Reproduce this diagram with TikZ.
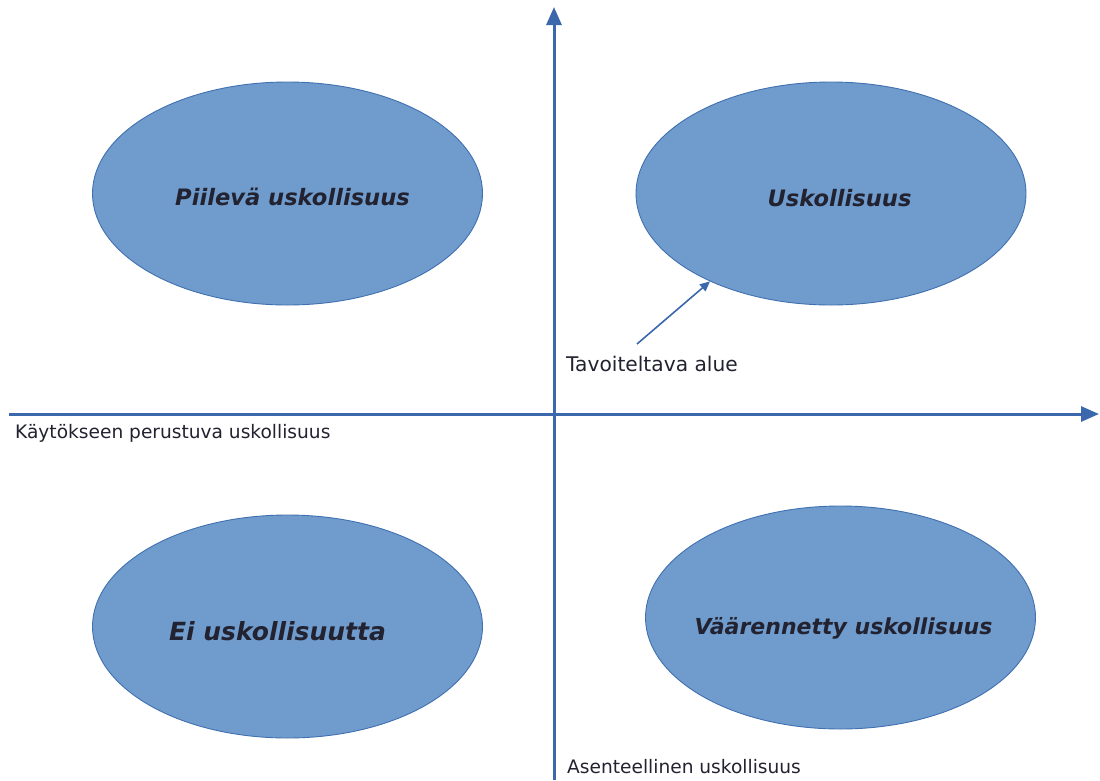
\documentclass[tikz,border=0pt]{standalone}
\usepackage{fontspec}
\setmainfont{DejaVu Sans}
\usepackage{tikz}
\usetikzlibrary{shapes.geometric,arrows.meta,positioning,calc}
\definecolor{axisblue}{HTML}{3B67AC}
\definecolor{ellfill}{HTML}{6F9CCD}
\definecolor{ellline}{HTML}{4170B0}
\definecolor{txtdark}{HTML}{222230}

\begin{document}
\begin{tikzpicture}[x=1pt,y=-1pt,
		axis/.style={draw=axisblue,line width=3pt,-{Triangle[length=18pt,width=15pt]}},
		quad/.style={ellipse,draw=ellline,line width=0.9pt,fill=ellfill,
			minimum width=390pt,minimum height=223pt,inner sep=0pt},
		qtxt/.style={text=txtdark,font=\fontsize{22.6}{26}\selectfont\bfseries\itshape},
		lbl/.style={anchor=west,inner sep=0pt,text=txtdark,font=\fontsize{18.6}{21}\selectfont}]
		\useasboundingbox (0,0) rectangle (1100,780);

		\coordinate (xs) at (9,414);
		\coordinate (xe) at (1099,414);
		\coordinate (ys) at (554,780);
		\coordinate (ye) at (554,7);
		\draw[axis] (xs)--(xe);
		\draw[axis] (ys)--(ye);

		\node[quad] (pu) at (287.5,193.5) {};
		\node[quad] (u)  at (831,193.5) {};
		\node[quad] (eu) at (287.5,626.5) {};
		\node[quad] (vu) at (840.5,617.5) {};
		\node[qtxt] (pul) at (292.5,197) {Piilevä uskollisuus};
		\node[qtxt] (ul)  at (839.5,198) {Uskollisuus};
		\node[qtxt,font=\fontsize{25}{28}\selectfont\bfseries\itshape] (eul) at (277.5,631) {Ei uskollisuutta};
		\node[qtxt,font=\fontsize{22}{25}\selectfont\bfseries\itshape] (vul) at (843.5,628) {Väärennetty uskollisuus};

		\node[lbl,font=\fontsize{20.2}{23}\selectfont] (tav) at (566,364) {Tavoiteltava alue};
		\node[lbl] (kay) at (15,433) {Käytökseen perustuva uskollisuus};
		\node[lbl] (ase) at (567,767) {Asenteellinen uskollisuus};

		\coordinate (tavs) at (637,344);
		\draw[draw=axisblue,line width=1.6pt,-{Triangle[length=10pt,width=9pt]}] (tavs)--(u.216);
	\end{tikzpicture}
\end{document}
